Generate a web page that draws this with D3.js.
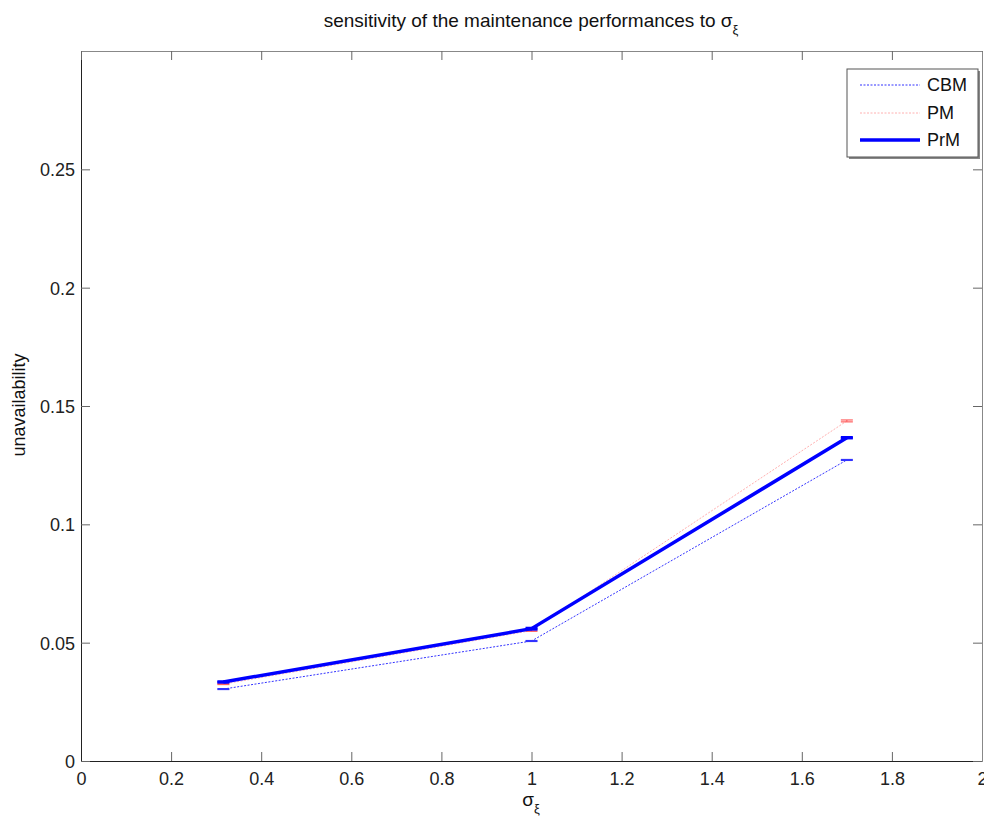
<!DOCTYPE html>
<html><head><meta charset="utf-8">
<script src="https://cdn.jsdelivr.net/npm/d3@7"></script>
<style>body{margin:0;background:#fff}svg{display:block;font-family:"Liberation Sans",Arial,sans-serif}</style>
</head><body><svg id="c" width="984" height="823"></svg>
<script>
const sigma = [0.316, 1.0, 1.7];
const cbm = [0.0304, 0.0507, 0.1272];
const pm  = [0.0325, 0.0551, 0.1437];
const prm = [0.0334, 0.0559, 0.1366];
const cbmErr = [0.0002, 0.0002, 0.0002];
const pmErr  = [0.0002, 0.0003, 0.0004];
const prmErr = [0.0002, 0.0003, 0.0002];
const xTicks = [0, 0.2, 0.4, 0.6, 0.8, 1, 1.2, 1.4, 1.6, 1.8, 2];
const yTicks = [0, 0.05, 0.1, 0.15, 0.2, 0.25];
const seriesNames = ["CBM", "PM", "PrM"];

const svg = d3.select("#c");
const L = 81, R = 982, T = 51, B = 761;
const x = d3.scaleLinear().domain([0, 2]).range([L, R]);
const y = d3.scaleLinear().domain([0, 0.3]).range([B, T]);

const styles = [
  {color: "#3333ff", width: 1, dash: "2,1.5"},
  {color: "#ffb0b0", width: 1, dash: "2,1.5"},
  {color: "#0000ff", width: 3.5, dash: null}
];
const series = [
  {vals: cbm, err: cbmErr},
  {vals: pm, err: pmErr},
  {vals: prm, err: prmErr}
];

const g = svg.append("g");
const xAxis = d3.axisBottom(x).tickValues(xTicks).tickSizeInner(-9).tickSizeOuter(0).tickPadding(0)
  .tickFormat(d => d3.format("~g")(d));
const gx = g.append("g").attr("transform", `translate(0,${B})`).call(xAxis);
const yAxis = d3.axisLeft(y).tickValues(yTicks).tickSizeInner(-9).tickSizeOuter(0).tickPadding(6)
  .tickFormat(d => d3.format("~g")(d));
const gy = g.append("g").attr("transform", `translate(${L},0)`).call(yAxis);
[gx, gy].forEach(a => {
  a.selectAll(".tick line").attr("stroke", "#666");
  a.selectAll("text").attr("font-size", 18).attr("fill", "#222");
  a.select(".domain").attr("stroke", "#222");
});
gx.selectAll("text").attr("y", 24).attr("dy", 0);
gy.selectAll("text").attr("dy", "0.36em");
const gt = g.append("g").attr("transform", `translate(0,${T})`)
  .call(d3.axisTop(x).tickValues(xTicks).tickSizeInner(-9).tickSizeOuter(0).tickFormat(""));
const gr = g.append("g").attr("transform", `translate(${R},0)`)
  .call(d3.axisRight(y).tickValues(yTicks).tickSizeInner(-9).tickSizeOuter(0).tickFormat(""));
[gt, gr].forEach(a => {
  a.selectAll(".tick line").attr("stroke", "#666");
  a.select(".domain").attr("stroke", "#888");
});

// data
const line = d3.line().x((d, i) => x(sigma[i])).y(d => y(d));
const capW = 6;
series.forEach((s, k) => {
  const st = styles[k];
  const gg = svg.append("g");
  gg.append("path").datum(s.vals).attr("d", line).attr("fill", "none")
    .attr("stroke", st.color).attr("stroke-width", st.width)
    .attr("stroke-dasharray", st.dash);
  s.vals.forEach((v, i) => {
    const cx = x(sigma[i]);
    const lo = y(v - s.err[i]), hi = y(v + s.err[i]);
    const col = k === 1 ? "#ff6060" : st.color;
    const w = k === 2 ? 2.5 : 1.2;
    gg.append("line").attr("x1", cx).attr("x2", cx).attr("y1", lo).attr("y2", hi).attr("stroke", col).attr("stroke-width", w);
    [lo, hi].forEach(yy => gg.append("line").attr("x1", cx - capW).attr("x2", cx + capW)
      .attr("y1", yy).attr("y2", yy).attr("stroke", col).attr("stroke-width", w));
  });
});

// title
const title = svg.append("text").attr("x", 531).attr("y", 27).attr("text-anchor", "middle")
  .attr("font-size", 19).attr("fill", "#111");
title.append("tspan").text("sensitivity of the maintenance performances to σ");
title.append("tspan").attr("dy", 7).attr("font-size", 13).text("ξ");

// x label
const xl = svg.append("text").attr("x", 531).attr("y", 806).attr("text-anchor", "middle")
  .attr("font-size", 19).attr("fill", "#111");
xl.append("tspan").text("σ");
xl.append("tspan").attr("dy", 7).attr("font-size", 13).text("ξ");

// y label
svg.append("text").attr("transform", "translate(25,405) rotate(-90)").attr("text-anchor", "middle")
  .attr("font-size", 18).attr("fill", "#111").text("unavailability");

// legend
const lg = svg.append("g");
const lx = 847, ly = 69, lw = 131, lh = 88;
lg.append("rect").attr("x", lx + 2).attr("y", ly + 2).attr("width", lw).attr("height", lh).attr("fill", "#888");
lg.append("rect").attr("x", lx).attr("y", ly).attr("width", lw).attr("height", lh).attr("fill", "#fff").attr("stroke", "#555");
const rows = [85, 113, 140];
seriesNames.forEach((n, k) => {
  const st = styles[k];
  lg.append("line").attr("x1", 860).attr("x2", 920).attr("y1", rows[k]).attr("y2", rows[k])
    .attr("stroke", st.color).attr("stroke-width", st.width).attr("stroke-dasharray", st.dash);
  lg.append("text").attr("x", 927).attr("y", rows[k]).attr("dy", "0.36em").attr("font-size", 18)
    .attr("fill", "#111").text(n);
});
</script></body></html>
